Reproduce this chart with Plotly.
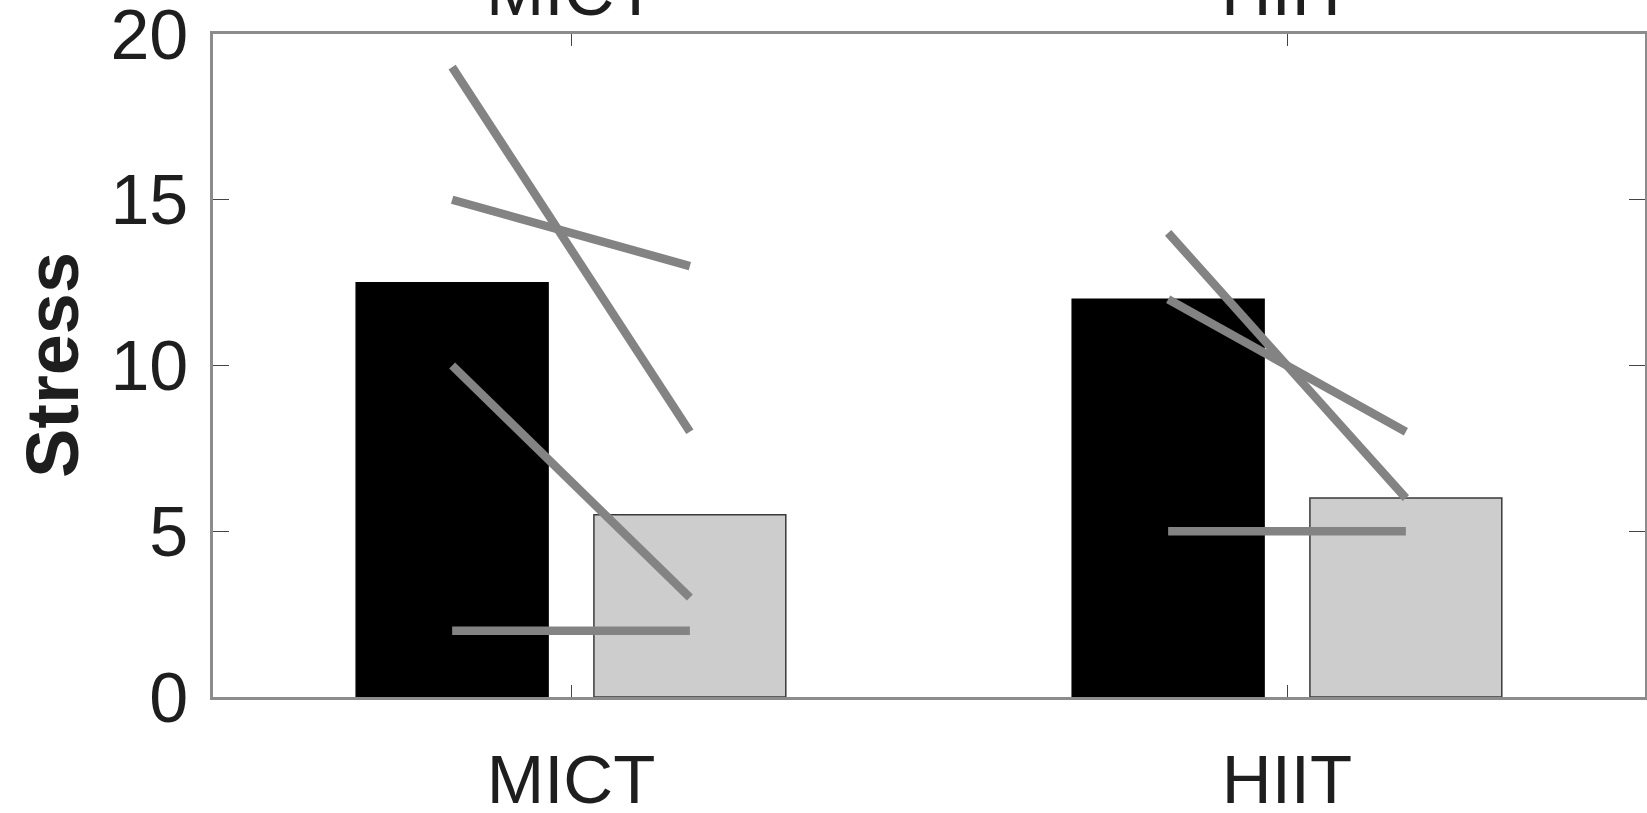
import plotly.graph_objects as go

# Group labels and mean bar heights
categories = ["MICT", "HIIT"]
pre_means = [12.5, 12.0]
post_means = [5.5, 6.0]

# Individual participant trajectories (pre -> post)
mict_pre = [19, 15, 10, 2]
mict_post = [8, 13, 3, 2]
hiit_pre = [14, 12, 5]
hiit_post = [6, 8, 5]

y_ticks = [0, 5, 10, 15, 20]

FONT = "Liberation Sans, Arial, sans-serif"
TEXT = "#1e1e1e"
AXIS = "#8c8c8c"
LINE_GREY = "#838383"
BAR_OFFSET = 0.166
BAR_WIDTH = 0.268

positions = list(range(len(categories)))

fig = go.Figure()

fig.add_trace(go.Bar(
    x=[p - BAR_OFFSET for p in positions], y=pre_means, width=BAR_WIDTH,
    marker=dict(color="#000000", line=dict(color="#000000", width=1.5)),
    showlegend=False, hoverinfo="skip",
))
fig.add_trace(go.Bar(
    x=[p + BAR_OFFSET for p in positions], y=post_means, width=BAR_WIDTH,
    marker=dict(color="#cdcdcd", line=dict(color="#3a3a3a", width=1.5)),
    showlegend=False, hoverinfo="skip",
))

groups = [(mict_pre, mict_post), (hiit_pre, hiit_post)]
for pos, (pre, post) in zip(positions, groups):
    for a, b in zip(pre, post):
        fig.add_trace(go.Scatter(
            x=[pos - BAR_OFFSET, pos + BAR_OFFSET], y=[a, b],
            mode="lines", line=dict(color=LINE_GREY, width=8.5),
            showlegend=False, hoverinfo="skip",
        ))

# Group titles from the panel above, cut off at the page edge
for pos, name in zip(positions, categories):
    fig.add_annotation(
        x=pos, y=1.003, xref="x", yref="paper", text=name,
        showarrow=False, xanchor="center", yanchor="bottom",
        font=dict(family=FONT, size=70, color=TEXT),
    )

fig.add_annotation(
    x=-0.112, y=0.5, xref="paper", yref="paper", text="<b>Stress</b>",
    textangle=-90, showarrow=False, xanchor="center", yanchor="middle",
    font=dict(family=FONT, size=74, color=TEXT),
)

fig.update_layout(
    width=1647, height=813,
    margin=dict(l=213, r=2, t=34, b=116),
    paper_bgcolor="white", plot_bgcolor="white",
    barmode="overlay",
    font=dict(family=FONT, color=TEXT),
)

fig.update_xaxes(
    range=[-0.5, 1.5], tickvals=positions, ticktext=categories,
    showgrid=False, zeroline=False, automargin=False,
    showline=True, linecolor=AXIS, linewidth=2.5, mirror="ticks",
    ticks="inside", ticklen=12, tickwidth=1.2, tickcolor="#444444",
    tickfont=dict(family=FONT, size=69, color=TEXT),
    ticklabelstandoff=20, ticklabeloverflow="allow",
)
fig.update_yaxes(
    range=[0, 20], tickvals=y_ticks,
    showgrid=False, zeroline=False, automargin=False,
    showline=True, linecolor=AXIS, linewidth=2.5, mirror="ticks",
    ticks="inside", ticklen=16, tickwidth=1.2, tickcolor="#444444",
    tickfont=dict(family=FONT, size=70, color=TEXT),
    ticklabelstandoff=8, ticklabeloverflow="allow",
)

fig.write_html("out.html")
